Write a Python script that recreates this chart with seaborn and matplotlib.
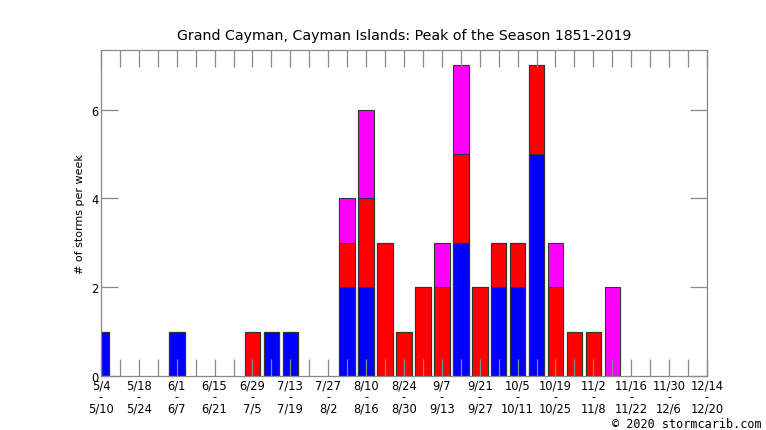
import numpy as np
import pandas as pd
import seaborn as sns
import matplotlib
matplotlib.use("Agg")
import matplotlib.pyplot as plt

# weekly bins, 5/4 .. 12/14
weeks = ['5/4', '5/11', '5/18', '5/25', '6/1', '6/8', '6/15', '6/22', '6/29',
         '7/6', '7/13', '7/20', '7/27', '8/3', '8/10', '8/17', '8/24', '8/31',
         '9/7', '9/14', '9/21', '9/28', '10/5', '10/12', '10/19', '10/26',
         '11/2', '11/9', '11/16', '11/23', '11/30', '12/7', '12/14']

blue_counts =    [1,0,0,0,1,0,0,0,0,1,1,0,0,2,2,0,0,0,0,3,0,2,2,5,0,0,0,0,0,0,0,0,0]
red_counts =     [0,0,0,0,0,0,0,0,1,0,0,0,0,1,2,3,1,2,2,2,2,1,1,2,2,1,1,0,0,0,0,0,0]
magenta_counts = [0,0,0,0,0,0,0,0,0,0,0,0,0,1,2,0,0,0,1,2,0,0,0,0,1,0,0,2,0,0,0,0,0]

label_start = ['5/4', '5/18', '6/1', '6/15', '6/29', '7/13', '7/27', '8/10', '8/24',
               '9/7', '9/21', '10/5', '10/19', '11/2', '11/16', '11/30', '12/14']
label_end = ['5/10', '5/24', '6/7', '6/21', '7/5', '7/19', '8/2', '8/16', '8/30',
             '9/13', '9/27', '10/11', '10/25', '11/8', '11/22', '12/6', '12/20']

df = pd.DataFrame({'week': weeks, 'blue': blue_counts,
                   'red': red_counts, 'magenta': magenta_counts})
df['lvl_blue'] = df['blue']
df['lvl_red'] = df['blue'] + df['red']
df['lvl_magenta'] = df['lvl_red'] + df['magenta']

fig = plt.figure(figsize=(7.66, 4.31), dpi=100)
ax = fig.add_axes([101/766, 1 - 377/431, (707-101)/766, (377-51)/431])

# stacked bars drawn as overlapping cumulative layers
for col, color in [('lvl_magenta', '#ff00ff'), ('lvl_red', '#ff0000'), ('lvl_blue', '#0000ff')]:
    d = df[['week', col]].copy()
    d[col] = d[col].where(d[col] > 0)
    sns.barplot(data=d, x='week', y=col, order=weeks, color=color, saturation=1,
                width=0.82, errorbar=None, edgecolor='#333333', linewidth=0.8, ax=ax)

ax.set_xlim(0, 32)
ax.set_ylim(0, 7.34)
ax.set_yticks([0, 2, 4, 6])
ax.set_xticks(range(33))
tick_labels = []
for i in range(33):
    if i % 2 == 0:
        tick_labels.append(label_start[i // 2] + '\n-\n' + label_end[i // 2])
    else:
        tick_labels.append('')
ax.set_xticklabels(tick_labels, fontsize=8.3, linespacing=0.86)
ax.tick_params(axis='y', labelsize=8.3)
ax.tick_params(direction='in', length=12, width=0.9, color='#888888',
               top=True, right=True, pad=2)
ax.tick_params(axis='x', pad=1.5)
for s in ax.spines.values():
    s.set_color('#888888')
    s.set_linewidth(0.9)

ax.set_xlabel('')
ax.set_ylabel('# of storms per week', fontsize=8)
ax.set_title('Grand Cayman, Cayman Islands: Peak of the Season 1851-2019',
             fontsize=10.2, pad=8)

fig.text(762/766, 1 - 425/431, '\u00a9 2020 stormcarib.com', ha='right', va='center',
         fontsize=8.5, family='DejaVu Sans Mono')

fig.savefig('out.png', dpi=100)
